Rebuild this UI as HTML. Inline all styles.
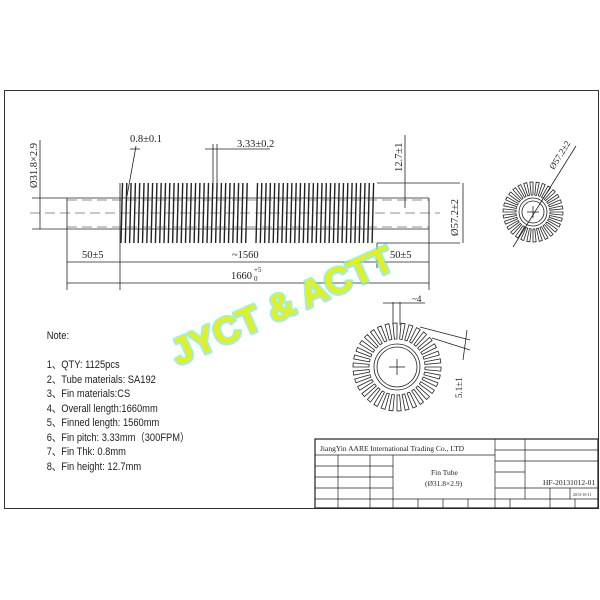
<!DOCTYPE html>
<html><head><meta charset="utf-8"><style>
html,body{margin:0;padding:0;background:#fff;}
svg{display:block;}
.t{font-family:"Liberation Serif","Noto Serif CJK SC",serif;fill:#222;}
.n{font-family:"Liberation Sans","Noto Sans CJK SC",sans-serif;fill:#222;font-size:11px;}
</style></head><body>
<svg id="s" width="600" height="600" viewBox="0 0 600 600" xmlns="http://www.w3.org/2000/svg">
<rect width="600" height="600" fill="#fff"/>
<rect x="4.5" y="90.5" width="594" height="418" fill="none" stroke="#333" stroke-width="1"/>
<g stroke="#222" stroke-width="0.8" fill="none">
<line x1="67" y1="198" x2="429" y2="198"/>
<line x1="67" y1="229" x2="429" y2="229"/>
<line x1="67" y1="198" x2="67" y2="229"/>
<line x1="429" y1="198" x2="429" y2="229"/>
<line x1="30" y1="213" x2="440" y2="213" stroke-dasharray="10,5" stroke-width="0.6"/>
<line x1="67" y1="200" x2="429" y2="200" stroke-dasharray="10,5" stroke-width="0.5"/>
<line x1="67" y1="227" x2="429" y2="227" stroke-dasharray="10,5" stroke-width="0.5"/>
<line x1="377" y1="183" x2="460" y2="183"/>
<line x1="377" y1="243" x2="460" y2="243"/>
<line x1="120" y1="183" x2="120" y2="290"/>
<line x1="377" y1="243" x2="377" y2="268"/>
<line x1="67" y1="229" x2="67" y2="290"/>
<line x1="429" y1="229" x2="429" y2="290"/>
<line x1="67" y1="262" x2="429" y2="262"/>
<line x1="67" y1="283" x2="429" y2="283"/>
<line x1="40" y1="140" x2="40" y2="229"/>
<line x1="32" y1="198" x2="67" y2="198"/>
<line x1="32" y1="229" x2="67" y2="229"/>
<line x1="463" y1="183" x2="463" y2="243"/>
<line x1="405" y1="135" x2="405" y2="208"/>
<line x1="130" y1="149" x2="140" y2="149"/>
<line x1="136" y1="146" x2="127" y2="196"/>
<line x1="205" y1="149" x2="270" y2="149"/>
<line x1="213" y1="144" x2="213" y2="190"/>
<line x1="217" y1="144" x2="217" y2="190"/>
<line x1="513" y1="247" x2="576" y2="146"/>
<line x1="393" y1="302" x2="393" y2="325"/>
<line x1="400" y1="302" x2="400" y2="325"/>
<line x1="383" y1="303" x2="425" y2="303"/>
<line x1="420" y1="327" x2="470" y2="340"/>
<line x1="432" y1="338" x2="470" y2="350"/>
<line x1="467" y1="330" x2="463" y2="360"/>
<line x1="389" y1="367" x2="405" y2="367"/><line x1="397" y1="359" x2="397" y2="375"/>
<line x1="527" y1="212" x2="539" y2="212"/><line x1="533" y1="206" x2="533" y2="218"/>
<circle cx="397" cy="367" r="23"/><circle cx="397" cy="367" r="20"/>
<circle cx="533" cy="212" r="14"/><circle cx="533" cy="212" r="11"/>
<g id="fins" stroke-width="1.4"></g>
<g id="teeth" stroke-width="0.8"></g>
</g>
<text class="t" font-size="10.5" transform="translate(37,188) rotate(-90)">Ø31.8×2.9</text>
<text class="t" font-size="10.5" x="130" y="142">0.8±0.1</text>
<text class="t" font-size="10.5" x="237" y="147">3.33±0.2</text>
<text class="t" font-size="10.5" transform="translate(402,172) rotate(-90)">12.7±1</text>
<text class="t" font-size="10.5" transform="translate(458,236) rotate(-90)">Ø57.2±2</text>
<text class="t" font-size="10.5" x="82" y="258">50±5</text>
<text class="t" font-size="10.5" x="232" y="258">~1560</text>
<text class="t" font-size="10.5" x="390" y="258">50±5</text>
<text class="t" font-size="10.5" x="231" y="279">1660</text><text class="t" font-size="7" x="254" y="272">+5</text><text class="t" font-size="7" x="254" y="281">0</text>
<text class="t" font-size="9" transform="translate(554,170) rotate(-58)">Ø57.2±2</text>
<text class="t" font-size="9" x="412" y="302">~4</text>
<text class="t" font-size="9" transform="translate(462,398) rotate(-90)">5.1±1</text>
<g class="n" transform="scale(0.85,1)">
<text x="55" y="339">Note:</text>
<text x="55" y="368">1、QTY: 1125pcs</text>
<text x="55" y="383">2、Tube materials: SA192</text>
<text x="55" y="397">3、Fin materials:CS</text>
<text x="55" y="412">4、Overall length:1660mm</text>
<text x="55" y="426">5、Finned length:  1560mm</text>
<text x="55" y="441">6、Fin pitch: 3.33mm（300FPM）</text>
<text x="55" y="455">7、Fin Thk: 0.8mm</text>
<text x="55" y="470">8、Fin height: 12.7mm</text>
</g>
<g stroke="#222" stroke-width="0.7" fill="none">
<rect x="315" y="439" width="283" height="69" stroke-width="1.2"/>
<line x1="315" y1="455" x2="495" y2="455"/>
<line x1="495" y1="439" x2="495" y2="508"/>
<line x1="525" y1="439" x2="525" y2="499"/>
<line x1="338" y1="455" x2="338" y2="508"/>
<line x1="370" y1="455" x2="370" y2="508"/>
<line x1="393" y1="455" x2="393" y2="508"/>
<line x1="315" y1="466" x2="393" y2="466"/>
<line x1="315" y1="477" x2="393" y2="477"/>
<line x1="315" y1="488" x2="393" y2="488"/>
<line x1="315" y1="499" x2="598" y2="499"/>
<line x1="495" y1="450" x2="598" y2="450"/>
<line x1="495" y1="461" x2="598" y2="461"/>
<line x1="495" y1="472" x2="525" y2="472"/>
<line x1="495" y1="488" x2="598" y2="488"/>
<line x1="550" y1="488" x2="550" y2="508"/>
<line x1="570" y1="488" x2="570" y2="499"/>
<line x1="418" y1="499" x2="418" y2="508"/>
<line x1="443" y1="499" x2="443" y2="508"/>
<line x1="468" y1="499" x2="468" y2="508"/>
<line x1="510" y1="499" x2="510" y2="508"/>
<line x1="575" y1="499" x2="575" y2="508"/>
</g>
<text class="t" font-size="7.5" x="320" y="451">JiangYin AARE International Trading Co., LTD</text>
<text class="t" font-size="7.5" x="431" y="475">Fin Tube</text>
<text class="t" font-size="7.5" x="425" y="486">(Ø31.8×2.9)</text>
<text class="t" font-size="7.5" x="543" y="485">HF-20131012-01</text>
<text class="t" font-size="4" x="573" y="496">2013-10-11</text>
<g transform="translate(178,366) rotate(-24)" font-family="Liberation Sans,sans-serif" font-weight="bold" font-size="37">
<text x="0" y="0" fill="none" stroke="#7fe6d0" stroke-width="4" stroke-linejoin="round" opacity="0.7">JYCT &amp; ACTT</text>
<text x="0" y="0" fill="#e2f01c">JYCT &amp; ACTT</text>
</g>
</svg>
<script>
var NS="http://www.w3.org/2000/svg";
function L(g,x1,y1,x2,y2){var l=document.createElementNS(NS,"line");l.setAttribute("x1",x1);l.setAttribute("y1",y1);l.setAttribute("x2",x2);l.setAttribute("y2",y2);g.appendChild(l);}
var f=document.getElementById("fins");
for(var x=121;x<=249;x+=4.3)L(f,x+1.5,183,x,243);
for(var x=256;x<=376;x+=4.3)L(f,x+1.5,183,x,243);
var t=document.getElementById("teeth");
function gear(cx,cy,r1,r2,n,fr){var d="";for(var i=0;i<n;i++){var a=i*2*Math.PI/n,w=Math.PI*2/n*fr;
 var p=function(r,b){return (cx+r*Math.cos(b)).toFixed(1)+","+(cy+r*Math.sin(b)).toFixed(1);};
 d+="M"+p(r1,a)+"L"+p(r2,a)+"A"+r2+","+r2+" 0 0 1 "+p(r2,a+w)+"L"+p(r1,a+w)+"Z";}
 var pa=document.createElementNS(NS,"path");pa.setAttribute("d",d);t.appendChild(pa);}
gear(397,367,28,44,34,0.5);gear(533,212,17,30,30,0.5);
</script>
</body></html>
